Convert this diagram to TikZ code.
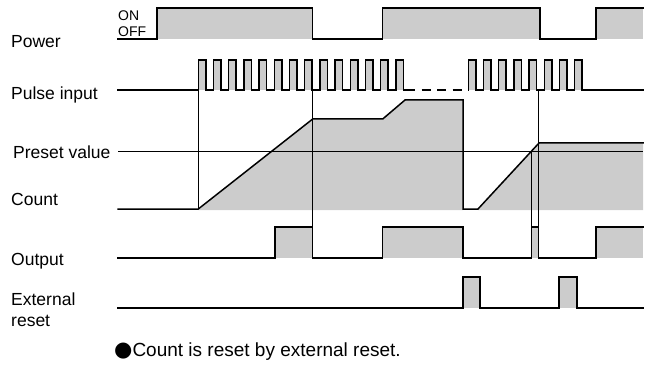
\documentclass[tikz,border=0pt]{standalone}
\usepackage{fontspec}
\setmainfont{Liberation Sans}
\newfontfamily\symfont{DejaVu Sans}
\tikzset{
  sig/.style={line width=1.5pt, line join=miter, line cap=rect},
  thin/.style={line width=0.8pt},
  hi/.style={fill=black!20},
  lbl/.style={anchor=west, inner sep=0pt, font=\fontsize{17.5}{19}\selectfont},
  small/.style={anchor=west, inner sep=0pt, font=\fontsize{14}{15}\selectfont},
}
\begin{document}
\begin{tikzpicture}[x=1pt,y=-1pt]
\useasboundingbox (0,0) rectangle (650,366);
% labels
\node[lbl] (lpow) at (11,42) {Power};
\node[lbl] (lpul) at (11,95) {Pulse input};
\node[lbl] (lpre) at (13,152) {Preset value};
\node[lbl] (lcnt) at (11,199) {Count};
\node[lbl] (lout) at (11,261) {Output};
\node[lbl] (lext1) at (11,299) {External};
\node[lbl] (lext2) at (11,321) {reset};
\node[small] (lon) at (118,15.5) {ON};
\node[small] (loff) at (118,31.5) {OFF};
\node[anchor=west, inner sep=0pt, font=\fontsize{19}{20}\selectfont] (foot) at (114,352) {{\symfont\fontsize{21}{22}\selectfont ●}Count is reset by external reset.};
% fills
\fill[hi] (157,8) rectangle (312.7,39);
\fill[hi] (382.7,8) rectangle (540,39);
\fill[hi] (596,8) rectangle (643,39);
\foreach \k in {0,...,13}{\fill[hi] ({198.3+15.2*\k},60) rectangle ({205.8+15.2*\k},90);}
\foreach \k in {0,...,7}{\fill[hi] ({468.3+15.2*\k},60) rectangle ({475.8+15.2*\k},90);}
\fill[hi] (198.3,210) -- (312.7,119) -- (382.7,119) -- (405,100) -- (463,100) -- (463,210) -- cycle;
\fill[hi] (478,210) -- (539,143) -- (643,143) -- (643,210) -- cycle;
\fill[hi] (275,227) rectangle (312.7,258);
\fill[hi] (382.7,227) rectangle (463,258);
\fill[hi] (531.7,227) rectangle (538.7,258);
\fill[hi] (596,227) rectangle (643,258);
\fill[hi] (463,277) rectangle (480,308);
\fill[hi] (559,277) rectangle (577,308);
% thin lines
\draw[thin] (118,151) -- (643,151);
\draw[thin] (198.3,90) -- (198.3,209);
\draw[thin] (312.7,90) -- (312.7,227);
\draw[thin] (538.7,90) -- (538.7,227);
\draw[thin] (531.7,151) -- (531.7,227);
% power
\draw[sig] (118,39) -- (157,39) -- (157,8) -- (312.7,8) -- (312.7,39) -- (382.7,39) -- (382.7,8) -- (540,8) -- (540,39) -- (596,39) -- (596,8) -- (643,8);
% pulse input
\draw[sig] (118,90) \foreach \k in {0,...,13}{ -- ({198.3+15.2*\k},90) -- ({198.3+15.2*\k},60) -- ({205.8+15.2*\k},60) -- ({205.8+15.2*\k},90)} -- (405,90);
\draw[sig, line cap=butt, dash pattern=on 9pt off 6.5pt] (406,90) -- (468.3,90);
\draw[sig] (468.3,90) \foreach \k in {0,...,7}{ -- ({468.3+15.2*\k},90) -- ({468.3+15.2*\k},60) -- ({475.8+15.2*\k},60) -- ({475.8+15.2*\k},90)} -- (643,90);
% count
\draw[sig] (118,209) -- (198.3,209) -- (312.7,119) -- (382.7,119) -- (405,100) -- (463,100) -- (463,209) -- (478,209) -- (539,143) -- (643,143);
% output
\draw[sig] (118,258) -- (275,258) -- (275,227) -- (312.7,227) -- (312.7,258) -- (382.7,258) -- (382.7,227) -- (463,227) -- (463,258) -- (531.7,258) -- (531.7,227) -- (538.7,227) -- (538.7,258) -- (596,258) -- (596,227) -- (643,227);
% external reset
\draw[sig] (118,308) -- (463,308) -- (463,277) -- (480,277) -- (480,308) -- (559,308) -- (559,277) -- (577,277) -- (577,308) -- (643,308);
\end{tikzpicture}
\end{document}
